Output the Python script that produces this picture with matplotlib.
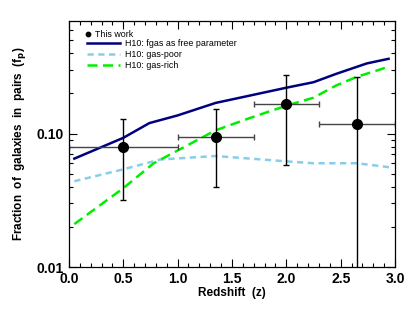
import numpy as np
import matplotlib
matplotlib.use("Agg")
import matplotlib.pyplot as plt
from matplotlib.ticker import MultipleLocator, FixedLocator, NullFormatter

plt.rcParams['font.family'] = ['Liberation Sans', 'DejaVu Sans']

# this work
z_obs = [0.5, 1.35, 2.0, 2.65]
fp_obs = [0.080, 0.095, 0.166, 0.118]
z_lo = [0.0, 1.0, 1.7, 2.3]
z_hi = [1.0, 1.7, 2.3, 3.0]
fp_lo = [0.032, 0.040, 0.058, 0.005]
fp_hi = [0.129, 0.153, 0.273, 0.267]

# H10 models
z_free = [0.05, 0.5, 0.74, 1.0, 1.35, 1.665, 2.0, 2.25, 2.46, 2.74, 2.94]
fp_free = [0.065, 0.093, 0.12, 0.137, 0.17, 0.193, 0.221, 0.243, 0.281, 0.336, 0.364]
z_poor = [0.05, 0.5, 0.84, 1.35, 2.0, 2.25, 2.65, 2.95]
fp_poor = [0.044, 0.054, 0.064, 0.068, 0.062, 0.060, 0.060, 0.056]
z_rich = [0.05, 0.5, 0.78, 1.35, 1.665, 2.0, 2.25, 2.46, 2.65, 2.94]
fp_rich = [0.021, 0.039, 0.060, 0.106, 0.131, 0.162, 0.186, 0.23, 0.267, 0.317]

fig = plt.figure(figsize=(4.15, 3.12), dpi=100)
ax = fig.add_axes([0.166, 0.144, 0.786, 0.789])

l1, = ax.plot(z_free, fp_free, color='#000080', lw=1.8, label='H10: fgas as free parameter')
l2, = ax.plot(z_poor, fp_poor, color='#87ceeb', lw=1.8, ls=(0, (2.5, 1.8)), label='H10: gas-poor')
l3, = ax.plot(z_rich, fp_rich, color='#00ee00', lw=1.8, ls=(0, (4, 2.2)), label='H10: gas-rich')

xerr = [np.subtract(z_obs, z_lo), np.subtract(z_hi, z_obs)]
yerr = [np.subtract(fp_obs, fp_lo), np.subtract(fp_hi, fp_obs)]
ax.errorbar(z_obs, fp_obs, xerr=xerr, fmt='none', ecolor='#444444', elinewidth=1.0, capsize=2.5)
ax.errorbar(z_obs, fp_obs, yerr=yerr, fmt='none', ecolor='black', elinewidth=1.0, capsize=2.5)
pt, = ax.plot(z_obs, fp_obs, 'o', color='black', ms=7, label='This work', zorder=5)

ax.set_yscale('log')
ax.set_xlim(0, 3.0)
ax.set_ylim(0.01, 0.7)
ax.set_xticks(np.arange(0, 3.01, 0.5))
ax.set_xticklabels(['%.1f' % v for v in np.arange(0, 3.01, 0.5)])
ax.xaxis.set_minor_locator(MultipleLocator(0.1))
ax.yaxis.set_major_locator(FixedLocator([0.01, 0.1]))
ax.set_yticklabels(['0.01', '0.10'])
ax.yaxis.set_minor_locator(FixedLocator([0.02, 0.03, 0.04, 0.05, 0.06, 0.07, 0.08, 0.09,
                                          0.2, 0.3, 0.4, 0.5, 0.6]))
ax.yaxis.set_minor_formatter(NullFormatter())
ax.tick_params(which='both', direction='in', top=True, right=True, width=0.8)
ax.tick_params(which='major', length=6, labelsize=10)
ax.tick_params(which='minor', length=3)
for lab in ax.get_xticklabels() + ax.get_yticklabels():
    lab.set_fontweight('bold')
for sp in ax.spines.values():
    sp.set_linewidth(0.9)

ax.set_xlabel('Redshift  (z)', fontsize=8.5, fontweight='bold', labelpad=1)
ax.set_ylabel('Fraction  of  galaxies  in  pairs  (f$_\\mathbf{p}$)', fontsize=8.5,
              fontweight='bold', labelpad=6)

leg1 = ax.legend([pt], ['This work'], loc='upper left', bbox_to_anchor=(0.05, 0.963),
                 frameon=False, fontsize=6.4, handlelength=0.6, handletextpad=0.45,
                 borderpad=0, borderaxespad=0, markerscale=0.45)
ax.add_artist(leg1)
ax.legend([l1, l2, l3], [l1.get_label(), l2.get_label(), l3.get_label()],
          loc='upper left', bbox_to_anchor=(0.055, 0.927), frameon=False, fontsize=6.4,
          handlelength=3.7, handletextpad=0.56, labelspacing=0.25,
          borderpad=0, borderaxespad=0)

fig.savefig('out.png', dpi=100)
